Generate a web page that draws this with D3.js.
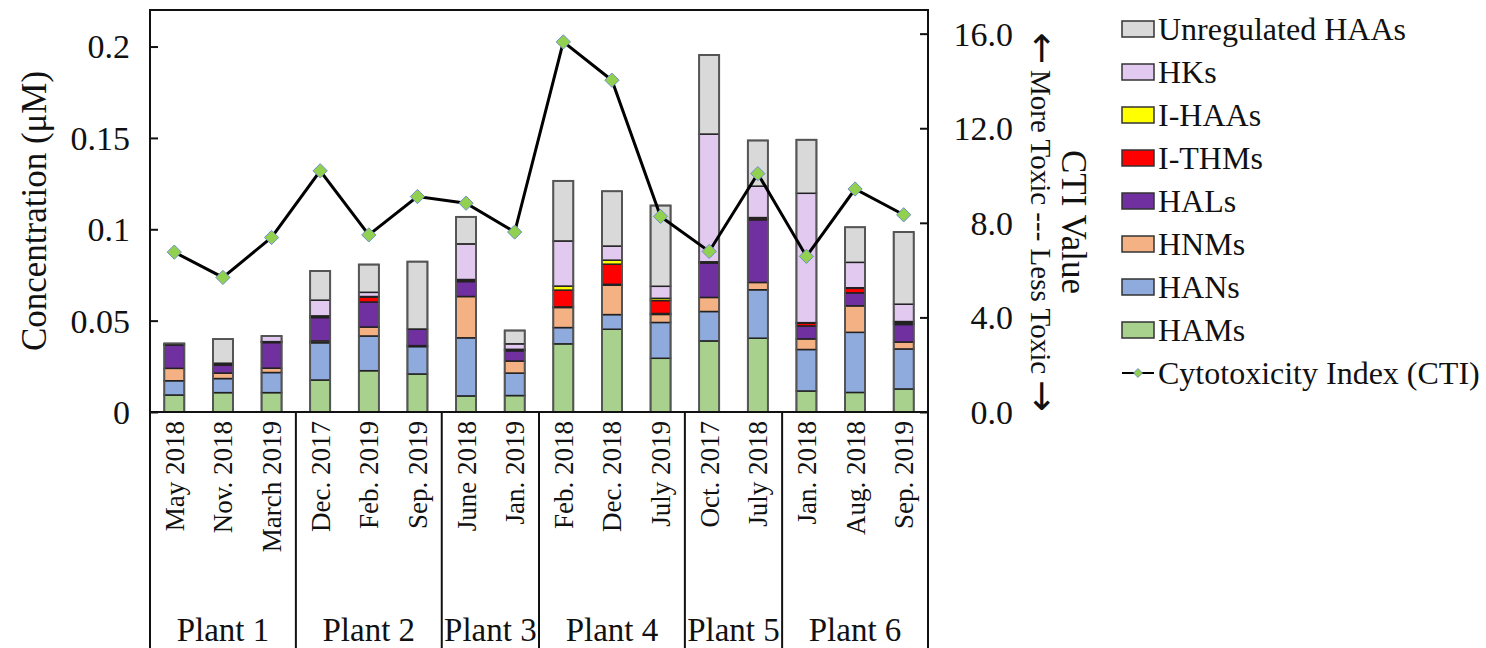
<!DOCTYPE html>
<html>
<head>
<meta charset="utf-8">
<script src="https://cdn.jsdelivr.net/npm/d3@7"></script>
<style>
  html, body { margin: 0; padding: 0; background: #fff; }
  svg { display: block; font-family: "Liberation Serif", "Times New Roman", serif; }
</style>
</head>
<body>
<svg id="chart" width="1486" height="648"></svg>
<script>
// ---------------- data ----------------
const categories = ["May 2018","Nov. 2018","March 2019","Dec. 2017","Feb. 2019","Sep. 2019","June 2018","Jan. 2019","Feb. 2018","Dec. 2018","July 2019","Oct. 2017","July 2018","Jan. 2018","Aug. 2018","Sep. 2019"];
const plants = ["Plant 1","Plant 2","Plant 3","Plant 4","Plant 5","Plant 6"];
const plantSizes = [3,3,2,3,2,3];

const seriesNames = ["HAMs","HANs","HNMs","HALs","I-THMs","I-HAAs","HKs","Unregulated HAAs"];
const HAMs   = [0.0093,0.0106,0.0106,0.0175,0.0226,0.0208,0.0088,0.0090,0.0373,0.0453,0.0294,0.0389,0.0404,0.0115,0.0107,0.0126];
const HANs   = [0.0078,0.0077,0.0110,0.0204,0.0190,0.0150,0.0318,0.0123,0.0089,0.0080,0.0196,0.0161,0.0265,0.0227,0.0329,0.0219];
const HNMs   = [0.0068,0.0030,0.0024,0.0010,0.0049,0.0005,0.0226,0.0066,0.0110,0.0161,0.0044,0.0077,0.0040,0.0058,0.0145,0.0038];
const HALs   = [0.0128,0.0044,0.0140,0.0128,0.0137,0.0091,0.0082,0.0056,0.0003,0.0005,0.0005,0.0188,0.0343,0.0071,0.0071,0.0096];
const ITHMs  = [0.0004,0.0003,0.0004,0.0006,0.0027,0.0000,0.0008,0.0005,0.0092,0.0110,0.0071,0.0005,0.0010,0.0016,0.0025,0.0008];
const IHAAs  = [0.0002,0.0002,0.0001,0.0003,0.0003,0.0000,0.0003,0.0003,0.0022,0.0022,0.0012,0.0002,0.0002,0.0002,0.0003,0.0008];
const HKs    = [0.0002,0.0005,0.0031,0.0086,0.0023,0.0000,0.0195,0.0030,0.0247,0.0077,0.0066,0.0699,0.0172,0.0708,0.0139,0.0095];
const UnregHAAs = [0.0000,0.0132,0.0000,0.0160,0.0152,0.0369,0.0148,0.0073,0.0329,0.0300,0.0442,0.0433,0.0250,0.0293,0.0192,0.0395];
const CTI    = [6.76,5.69,7.38,10.20,7.49,9.11,8.83,7.61,15.65,14.03,8.27,6.79,10.08,6.58,9.43,8.34];

const leftTicks = [0,0.05,0.1,0.15,0.2];
const leftTickLabels = ["0","0.05","0.1","0.15","0.2"];
const rightTicks = [0,4,8,12,16];
const rightTickLabels = ["0.0","4.0","8.0","12.0","16.0"];
const legendOrder = ["Unregulated HAAs","HKs","I-HAAs","I-THMs","HALs","HNMs","HANs","HAMs"];
const colors = {
  "HAMs":"#a9d18e","HANs":"#8faadc","HNMs":"#f4b183","HALs":"#7030a0",
  "I-THMs":"#ff0000","I-HAAs":"#ffff00","HKs":"#e2c9f0","Unregulated HAAs":"#d9d9d9"
};

// ---------------- layout ----------------
const L = 150, R = 928, T = 10, B = 412;
const svg = d3.select("#chart");
const idx = d3.range(categories.length);

const x = d3.scaleBand().domain(idx).range([L, R]).paddingInner(0.588).paddingOuter(0.294);
const y = d3.scaleLinear().domain([0, 0.22]).range([B, T]);
const y2 = d3.scaleLinear().domain([0, 17]).range([B, T]);

const table = idx.map(i => ({
  i: i, "HAMs": HAMs[i], "HANs": HANs[i], "HNMs": HNMs[i], "HALs": HALs[i],
  "I-THMs": ITHMs[i], "I-HAAs": IHAAs[i], "HKs": HKs[i], "Unregulated HAAs": UnregHAAs[i]
}));
const stacked = d3.stack().keys(seriesNames)(table);

// bars
const gBars = svg.append("g");
stacked.forEach(layer => {
  gBars.append("g").selectAll("rect").data(layer).join("rect")
    .attr("x", d => x(d.data.i))
    .attr("width", x.bandwidth())
    .attr("y", d => y(d[1]))
    .attr("height", d => Math.max(0, y(d[0]) - y(d[1])))
    .attr("fill", colors[layer.key])
    .attr("stroke", "#222")
    .attr("stroke-width", 1.5);
});
const totals = table.map(d => seriesNames.reduce((s, k) => s + d[k], 0));
gBars.append("g").selectAll("rect").data(idx).join("rect")
  .attr("x", i => x(i)).attr("width", x.bandwidth())
  .attr("y", i => y(totals[i])).attr("height", i => B - y(totals[i]))
  .attr("fill", "none").attr("stroke", "#555").attr("stroke-width", 1.8);

// CTI line
const cx = i => x(i) + x.bandwidth() / 2;
const line = d3.line().x((d, i) => cx(i)).y(d => y2(d));
svg.append("path").datum(CTI).attr("d", line)
  .attr("fill", "none").attr("stroke", "#000").attr("stroke-width", 3);
const diamond = d3.symbol().type(d3.symbolDiamond2).size(130);
svg.append("g").selectAll("path").data(CTI).join("path")
  .attr("d", diamond)
  .attr("transform", (d, i) => `translate(${cx(i)},${y2(d)})`)
  .attr("fill", "#92d050").attr("stroke", "#6f8fc9").attr("stroke-width", 1);

// frame
svg.append("rect").attr("x", L).attr("y", T).attr("width", R - L).attr("height", B - T)
  .attr("fill", "none").attr("stroke", "#111").attr("stroke-width", 2);

// left axis (ticks inside)
const leftAxis = d3.axisRight(y).tickValues(leftTicks).tickSize(8).tickFormat("");
svg.append("g").attr("transform", `translate(${L},0)`).call(leftAxis)
  .call(g => g.select(".domain").remove())
  .call(g => g.selectAll("line").attr("stroke", "#111").attr("stroke-width", 2));
svg.append("g").selectAll("text").data(leftTicks).join("text")
  .attr("x", 130).attr("y", d => y(d)).attr("dy", "0.35em")
  .attr("text-anchor", "end").attr("font-size", 34).attr("fill", "#111")
  .text((d, i) => leftTickLabels[i]);

// right axis (ticks inside)
const rightAxis = d3.axisLeft(y2).tickValues(rightTicks).tickSize(8).tickFormat("");
svg.append("g").attr("transform", `translate(${R},0)`).call(rightAxis)
  .call(g => g.select(".domain").remove())
  .call(g => g.selectAll("line").attr("stroke", "#111").attr("stroke-width", 2));
svg.append("g").selectAll("text").data(rightTicks).join("text")
  .attr("x", 1013).attr("y", d => y2(d)).attr("dy", "0.35em")
  .attr("text-anchor", "end").attr("font-size", 34).attr("fill", "#111")
  .text((d, i) => rightTickLabels[i]);

// axis titles
svg.append("text").attr("transform", `translate(46,${(T + B) / 2}) rotate(-90)`)
  .attr("text-anchor", "middle").attr("font-size", 35).attr("fill", "#111")
  .text("Concentration (\u03bcM)");
svg.append("text").attr("transform", `translate(1062,222) rotate(90)`)
  .attr("text-anchor", "middle").attr("font-size", 35).attr("fill", "#111")
  .text("CTI Value");
svg.append("text").attr("transform", `translate(1031,222) rotate(90)`)
  .attr("text-anchor", "middle").attr("font-size", 29).attr("fill", "#111")
  .text("More Toxic --- Less Toxic");
svg.append("text").attr("x", 1042).attr("y", 62).attr("text-anchor", "middle")
  .attr("font-family", "DejaVu Sans").attr("font-size", 38).attr("fill", "#111").text("\u2191");
svg.append("text").attr("x", 1042).attr("y", 410).attr("text-anchor", "middle")
  .attr("font-family", "DejaVu Sans").attr("font-size", 38).attr("fill", "#111").text("\u2193");

// category labels
svg.append("g").selectAll("text").data(idx).join("text")
  .attr("transform", i => `translate(${cx(i)},421) rotate(-90)`)
  .attr("dy", "0.35em").attr("text-anchor", "end")
  .attr("font-size", 27).attr("fill", "#111")
  .text(i => categories[i]);

// group separators & plant labels
let acc = 0;
const bounds = [0];
plantSizes.forEach(s => { acc += s; bounds.push(acc); });
const bx = i => L + (R - L) * i / categories.length;
svg.append("g").selectAll("line").data(bounds).join("line")
  .attr("x1", d => bx(d)).attr("x2", d => bx(d))
  .attr("y1", B).attr("y2", 648)
  .attr("stroke", "#111").attr("stroke-width", 2);
svg.append("g").selectAll("text").data(plants).join("text")
  .attr("x", (d, i) => (bx(bounds[i]) + bx(bounds[i + 1])) / 2)
  .attr("y", 641).attr("text-anchor", "middle")
  .attr("font-size", 33).attr("fill", "#111")
  .text(d => d);

// legend
const lg = svg.append("g");
legendOrder.forEach((k, i) => {
  const yy = 29 + i * 43;
  lg.append("rect").attr("x", 1122).attr("y", yy - 8).attr("width", 32).attr("height", 16)
    .attr("fill", colors[k]).attr("stroke", "#333").attr("stroke-width", 1.5);
  lg.append("text").attr("x", 1158).attr("y", yy).attr("dy", "0.35em")
    .attr("font-size", 32).attr("fill", "#111").text(k);
});
{
  const yy = 29 + 8 * 43;
  lg.append("line").attr("x1", 1122).attr("x2", 1154).attr("y1", yy).attr("y2", yy)
    .attr("stroke", "#000").attr("stroke-width", 2);
  lg.append("path").attr("d", d3.symbol().type(d3.symbolDiamond2).size(50))
    .attr("transform", `translate(1138,${yy})`)
    .attr("fill", "#92d050").attr("stroke", "#6f8fc9").attr("stroke-width", 1);
  lg.append("text").attr("x", 1158).attr("y", yy).attr("dy", "0.35em")
    .attr("font-size", 32).attr("fill", "#111").text("Cytotoxicity Index (CTI)");
}
</script>
</body>
</html>
